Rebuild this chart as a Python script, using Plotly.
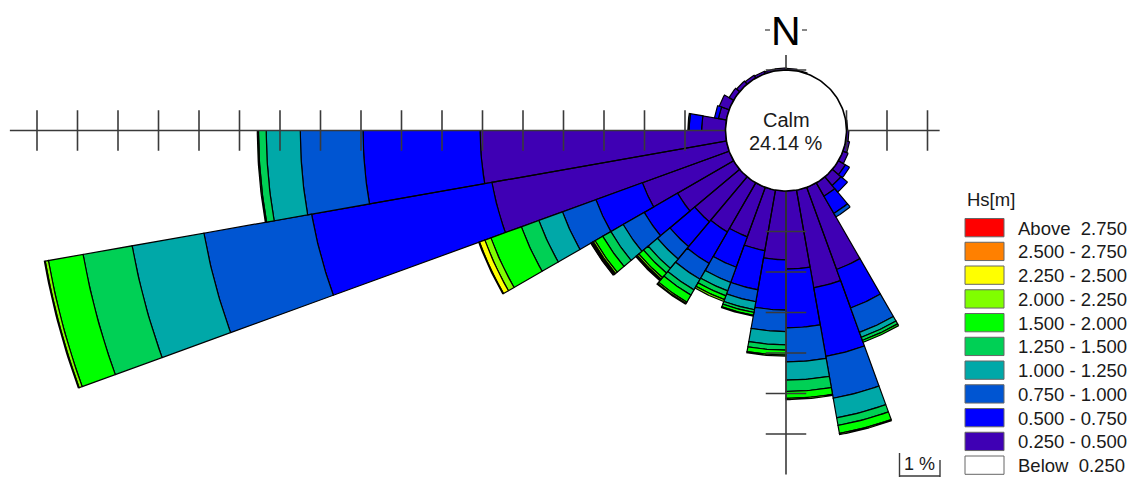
import numpy as np
import plotly.graph_objects as go

# ---------------- data ----------------
# sector centres (degrees clockwise from North), 10 degree sectors
directions = [5, 15, 25, 35, 45, 55, 65, 75, 85, 95, 105, 115,
              125, 135, 145, 155, 165, 175, 185, 195, 205, 215, 225, 235,
              245, 255, 265, 275, 285, 295, 305, 315, 325, 335, 345, 355]
calm_label = "Calm"
calm_percent = 24.14

hs_labels = ["0.250 - 0.500", "0.500 - 0.750", "0.750 - 1.000", "1.000 - 1.250",
             "1.250 - 1.500", "1.500 - 2.000", "2.000 - 2.250", "2.250 - 2.500",
             "2.500 - 2.750", "Above  2.750"]
below_label = "Below  0.250"
hs_colors = ["#3f00b4", "#0000ff", "#0055d2", "#00a8a8", "#00d055",
             "#00ff00", "#80ff00", "#ffff00", "#ff8000", "#ff0000"]

# frequency (%) per Hs class for each direction sector
hs_025_050 = [0.04, 0.02, 0, 0, 0, 0, 0, 0, 0.03, 0.06, 0.10, 0.14,
              0.20, 0.28, 0.38, 2.16, 2.45, 1.93, 1.70, 1.52, 1.30, 1.40, 1.45, 1.60,
              2.28, 5.88, 6.06, 0.59, 0.20, 0.26, 0.13, 0.10, 0.08, 0.06, 0.05, 0.05]
hs_050_075 = [0, 0, 0, 0, 0, 0, 0, 0, 0, 0, 0, 0,
              0.12, 0.21, 0.49, 1.01, 1.72, 1.45, 1.24, 0.98, 0.80, 0.90, 0.80, 0.95,
              1.22, 4.52, 2.89, 0.31, 0.10, 0, 0, 0, 0, 0, 0, 0]
hs_075_100 = [0, 0, 0, 0, 0, 0, 0, 0, 0, 0, 0, 0,
              0, 0, 0.10, 0.64, 1.05, 0.84, 0.53, 0.30, 0.40, 0.45, 0.40, 0.60,
              0.88, 2.70, 1.55, 0.03, 0, 0, 0, 0, 0, 0, 0, 0]
hs_100_125 = [0, 0, 0, 0, 0, 0, 0, 0, 0, 0, 0, 0,
              0, 0, 0, 0.13, 0.49, 0.45, 0.33, 0.20, 0.22, 0.30, 0.30, 0.35,
              0.62, 1.80, 0.84, 0, 0, 0, 0, 0, 0, 0, 0, 0]
hs_125_150 = [0, 0, 0, 0, 0, 0, 0, 0, 0, 0, 0, 0,
              0, 0, 0, 0.08, 0.19, 0.28, 0.13, 0.07, 0.13, 0.15, 0.15, 0.23,
              0.46, 1.23, 0.19, 0, 0, 0, 0, 0, 0, 0, 0, 0]
hs_150_200 = [0, 0, 0, 0, 0, 0, 0, 0, 0, 0, 0, 0,
              0, 0, 0, 0.05, 0.20, 0.17, 0.12, 0.07, 0.10, 0.20, 0.15, 0.22,
              0.80, 0.87, 0.03, 0, 0, 0, 0, 0, 0, 0, 0, 0]
hs_200_225 = [0, 0, 0, 0, 0, 0, 0, 0, 0, 0, 0, 0,
              0, 0, 0, 0, 0.03, 0.03, 0.03, 0.02, 0.05, 0.04, 0.05, 0.05,
              0.16, 0.08, 0, 0, 0, 0, 0, 0, 0, 0, 0, 0]
hs_225_250 = [0, 0, 0, 0, 0, 0, 0, 0, 0, 0, 0, 0,
              0, 0, 0, 0, 0, 0, 0, 0, 0, 0.02, 0.03, 0.03,
              0.14, 0.02, 0, 0, 0, 0, 0, 0, 0, 0, 0, 0]
hs_250_275 = [0, 0, 0, 0, 0, 0, 0, 0, 0, 0, 0, 0,
              0, 0, 0, 0, 0, 0, 0, 0, 0, 0, 0.02, 0.03,
              0.02, 0, 0, 0, 0, 0, 0, 0, 0, 0, 0, 0]
hs_above_275 = [0, 0, 0, 0, 0, 0, 0, 0, 0, 0, 0, 0,
                0, 0, 0, 0, 0, 0, 0, 0, 0, 0, 0, 0.01,
                0, 0, 0, 0, 0, 0, 0, 0, 0, 0, 0, 0]

classes = [hs_025_050, hs_050_075, hs_075_100, hs_100_125, hs_125_150,
           hs_150_200, hs_200_225, hs_225_250, hs_250_275, hs_above_275]

# axis tick counts (in % steps) along each compass arm
ticks_west, ticks_east, ticks_south = 17, 2, 6

# ---------------- geometry / layout ----------------
W, H = 1131, 482
PX = 40.5                 # pixels per 1 %
CX, CY = 786.0, 130.5     # rose centre in pixels
R0 = 60.5 / PX            # calm circle radius (drawing offset, in % units)
SECTOR = 10.0
FONT = "Liberation Sans, Arial, sans-serif"

x_range = [-CX / PX, (W - CX) / PX]
y_range = [-(H - CY) / PX, CY / PX]


def px2x(px):
    return (px - CX) / PX


def py2y(py):
    return (CY - py) / PX


fig = go.Figure()

# stacked sectors
cum = np.zeros(len(directions))
for vals, col in zip(classes, hs_colors):
    vals = np.asarray(vals, dtype=float)
    xs, ys = [], []
    for i, d in enumerate(directions):
        v = vals[i]
        if v <= 0:
            continue
        r_in = R0 + cum[i]
        r_out = r_in + v
        th = np.radians(np.linspace(d - SECTOR / 2, d + SECTOR / 2, 25))
        xo, yo = r_out * np.sin(th), r_out * np.cos(th)
        xi, yi = r_in * np.sin(th[::-1]), r_in * np.cos(th[::-1])
        xs += list(xo) + list(xi) + [xo[0], None]
        ys += list(yo) + list(yi) + [yo[0], None]
    cum += vals
    fig.add_trace(go.Scatter(x=xs, y=ys, mode="lines", fill="toself",
                             fillcolor=col, line=dict(color="black", width=1.2),
                             hoverinfo="skip", showlegend=False))

# compass axes with % ticks
ax_x, ax_y = [], []
# west arm
ax_x += [-R0, -(R0 + ticks_west + 0.67), None]
ax_y += [0, 0, None]
for k in range(1, ticks_west + 1):
    ax_x += [-(R0 + k), -(R0 + k), None]
    ax_y += [-0.5, 0.5, None]
# east arm
ax_x += [R0, R0 + ticks_east + 0.3, None]
ax_y += [0, 0, None]
for k in range(0, ticks_east + 1):
    ax_x += [R0 + k, R0 + k, None]
    ax_y += [-0.5, 0.5, None]
# south arm
ax_x += [0, 0, None]
ax_y += [-R0, -(R0 + ticks_south + 1.0), None]
for k in range(1, ticks_south + 1):
    ax_x += [-0.5, 0.5, None]
    ax_y += [-(R0 + k), -(R0 + k), None]
# north stub
ax_x += [0, 0, None, -0.5, 0.5, None]
ax_y += [R0, R0 + 0.37, None, R0, R0, None]
fig.add_trace(go.Scatter(x=ax_x, y=ax_y, mode="lines",
                         line=dict(color="#3a3a3a", width=1.6),
                         hoverinfo="skip", showlegend=False))

# N label dashes
fig.add_trace(go.Scatter(x=[px2x(765), px2x(770), None, px2x(802), px2x(807)],
                         y=[py2y(30)] * 2 + [None] + [py2y(30)] * 2,
                         mode="lines", line=dict(color="#3a3a3a", width=1.2),
                         hoverinfo="skip", showlegend=False))

# calm circle
tc = np.radians(np.linspace(0, 360, 181))
fig.add_trace(go.Scatter(x=R0 * np.sin(tc), y=R0 * np.cos(tc), mode="lines",
                         fill="toself", fillcolor="white",
                         line=dict(color="black", width=1.6),
                         hoverinfo="skip", showlegend=False))

# scale bar (1 %)
sb_x0 = px2x(899.5)
fig.add_trace(go.Scatter(x=[sb_x0, sb_x0, None, sb_x0 + 1, sb_x0 + 1, None, sb_x0, sb_x0 + 1],
                         y=[py2y(453), py2y(477), None, py2y(460), py2y(477), None,
                            py2y(476), py2y(476)],
                         mode="lines", line=dict(color="#3a3a3a", width=1.4),
                         hoverinfo="skip", showlegend=False))

annotations = [
    dict(x=0, y=py2y(119.5), text=calm_label, showarrow=False,
         font=dict(family=FONT, size=20, color="#1a1a1a")),
    dict(x=0, y=py2y(143), text=f"{calm_percent:.2f} %", showarrow=False,
         font=dict(family=FONT, size=20, color="#1a1a1a")),
    dict(x=0, y=py2y(31), text="N", showarrow=False,
         font=dict(family=FONT, size=41, color="black")),
    dict(x=sb_x0 + 0.5, y=py2y(464), text="1 %", showarrow=False,
         font=dict(family=FONT, size=18, color="#1a1a1a")),
]
for a in annotations:
    a["xref"] = "x"
    a["yref"] = "y"

# manual legend (Hs classes, top = highest)
shapes = []
leg_x0, leg_x1 = 965, 1004
leg_top, leg_step, leg_h = 218.5, 23.75, 18.3
annotations.append(dict(x=leg_x0 / W, y=1 - 199 / H, xref="paper", yref="paper",
                        text="Hs[m]", showarrow=False, xanchor="left",
                        yanchor="middle",
                        font=dict(family=FONT, size=18.5, color="#1a1a1a")))
items = list(zip(hs_labels, hs_colors))[::-1] + [(below_label, "#ffffff")]
for j, (lab, col) in enumerate(items):
    top = leg_top + j * leg_step
    shapes.append(dict(type="rect", xref="paper", yref="paper",
                       x0=leg_x0 / W, x1=leg_x1 / W,
                       y0=1 - (top + leg_h) / H, y1=1 - top / H,
                       fillcolor=col, line=dict(color="#666666", width=1)))
    annotations.append(dict(x=1016 / W, y=1 - (top + leg_h / 2 + 0.5) / H,
                            xref="paper", yref="paper",
                            text=lab.replace(" ", "\u00a0"), showarrow=False,
                            xanchor="left", yanchor="middle",
                            font=dict(family=FONT, size=18.5, color="#1a1a1a")))

fig.update_layout(
    width=W, height=H,
    margin=dict(l=0, r=0, t=0, b=0),
    paper_bgcolor="white", plot_bgcolor="white",
    xaxis=dict(range=x_range, visible=False, fixedrange=True),
    yaxis=dict(range=y_range, visible=False, fixedrange=True),
    shapes=shapes, annotations=annotations, showlegend=False,
)

fig.write_html("out.html",
               config={"displayModeBar": False, "staticPlot": True},
               post_script="document.body.style.margin='0';"
                           "document.body.style.overflow='hidden';")
